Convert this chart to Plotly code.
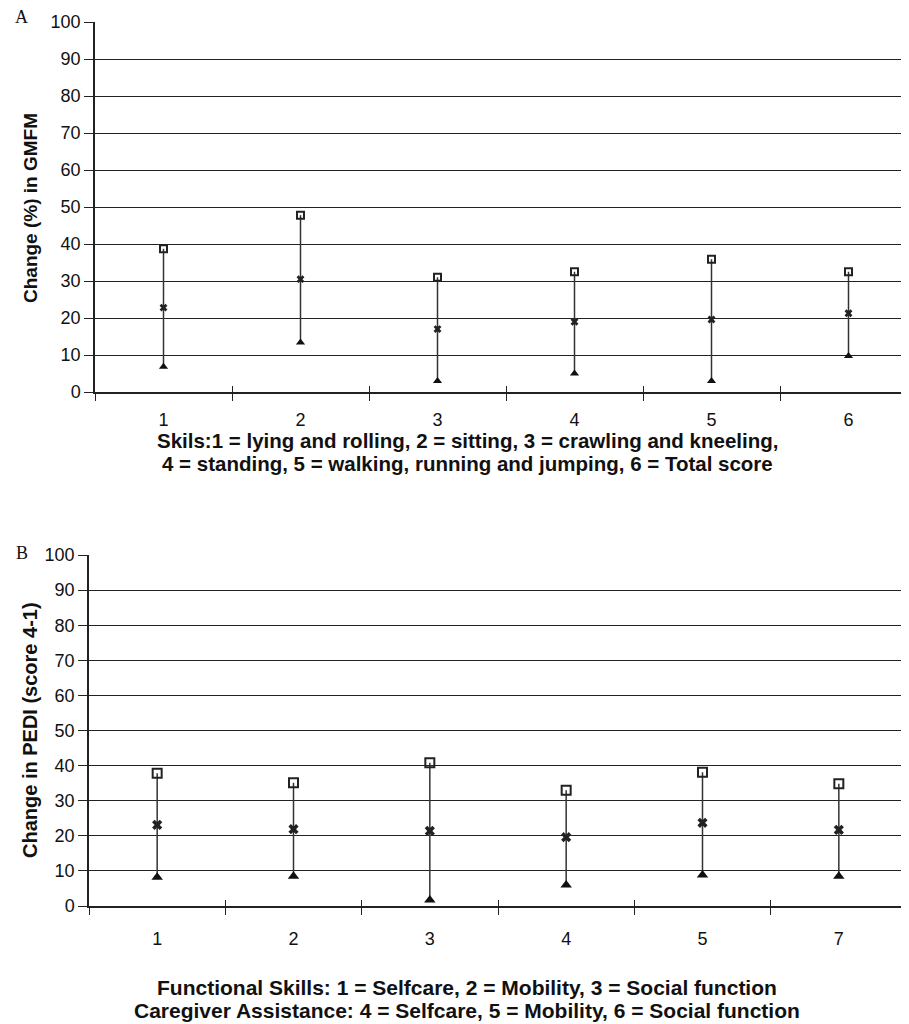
import plotly.graph_objects as go

# Panel A: GMFM change (%)
cats_a = ["1", "2", "3", "4", "5", "6"]
high_a = [38.7, 47.8, 31.0, 32.5, 35.9, 32.5]
mean_a = [22.8, 30.5, 17.0, 19.0, 19.6, 21.3]
low_a = [6.8, 13.4, 3.0, 5.0, 3.0, 9.7]

# Panel B: PEDI change
cats_b = ["1", "2", "3", "4", "5", "7"]
high_b = [37.8, 35.1, 40.8, 33.0, 38.1, 34.8]
mean_b = [23.1, 21.9, 21.4, 19.6, 23.7, 21.7]
low_b = [8.2, 8.5, 1.7, 6.0, 8.8, 8.5]

yticks = [0, 10, 20, 30, 40, 50, 60, 70, 80, 90, 100]

W, H = 909, 1024
OFF = 8  # page body margin


def px(v):
    return (v - OFF) / W


def py(v):
    return 1 - (v - OFF) / H


fig = go.Figure()


def add_panel(cats, high, low, mean, xa, ya, xov, msize):
    lx, ly = [], []
    for c, lo, hi in zip(cats, low, high):
        lx += [c, c, None]
        ly += [lo, hi, None]
    fig.add_trace(go.Scatter(x=lx, y=ly, mode="lines", xaxis=xa, yaxis=ya,
                             line=dict(color="#333333", width=1.5),
                             showlegend=False, hoverinfo="skip"))
    fig.add_trace(go.Scatter(x=cats, y=high, mode="markers", xaxis=xa, yaxis=ya,
                             marker=dict(symbol="square-open", size=msize - 1,
                                         color="#222222", line=dict(width=2, color="#222222")),
                             showlegend=False))
    fig.add_trace(go.Scatter(x=cats, y=mean, mode="markers", xaxis=xa, yaxis=ya,
                             marker=dict(symbol="x", size=msize - 1, color="#222222",
                                         line=dict(width=0)),
                             showlegend=False))
    fig.add_trace(go.Scatter(x=cats, y=low, mode="markers", xaxis=xa, yaxis=ya,
                             marker=dict(symbol="triangle-up", size=msize, color="#111111"),
                             showlegend=False))
    # invisible helper so the overlay axis knows the categories (ticks crossing the axis)
    fig.add_trace(go.Scatter(x=cats, y=mean, mode="markers", xaxis=xov, yaxis=ya,
                             marker=dict(opacity=0), showlegend=False, hoverinfo="skip"))


add_panel(cats_a, high_a, low_a, mean_a, "x", "y", "x3", 8)
add_panel(cats_b, high_b, low_b, mean_b, "x2", "y2", "x4", 10)

tickfont = dict(family="Liberation Sans, Arial", size=18, color="#111111")

common_y = dict(range=[0, 100], tickvals=yticks, showgrid=True, gridcolor="#222222",
                gridwidth=1.3, showline=True, linecolor="#222222", linewidth=1.5,
                ticks="outside", ticklen=9, tickcolor="#222222", tickfont=tickfont,
                zeroline=False, fixedrange=True, automargin=False)
common_x = dict(type="category", tickson="boundaries", ticks="outside", ticklen=7,
                tickcolor="#222222", showline=True, linecolor="#222222", linewidth=1.5,
                showgrid=False, zeroline=False, tickfont=tickfont, automargin=False)
over_x = dict(type="category", tickson="boundaries", ticks="inside", ticklen=6,
              tickcolor="#222222", showline=False, showgrid=False, zeroline=False,
              showticklabels=False, automargin=False)

dom_a = [px(95), px(917)]
dom_b = [px(89), px(907)]

fig.update_layout(
    width=W, height=H,
    margin=dict(l=0, r=0, t=0, b=0),
    plot_bgcolor="white", paper_bgcolor="white",
    xaxis=dict(domain=dom_a, anchor="y", range=[-0.5, 5.5],
               categoryarray=cats_a, categoryorder="array", ticklabelstandoff=11, **common_x),
    yaxis=dict(domain=[py(392), py(22)], anchor="x", **common_y),
    xaxis2=dict(domain=dom_b, anchor="y2", range=[-0.5, 5.5],
                categoryarray=cats_b, categoryorder="array", ticklabelstandoff=16, **common_x),
    yaxis2=dict(domain=[py(906), py(555)], anchor="x2", **common_y),
    xaxis3=dict(domain=dom_a, anchor="y", overlaying="x", range=[-0.5, 5.5],
                categoryarray=cats_a, categoryorder="array", **over_x),
    xaxis4=dict(domain=dom_b, anchor="y2", overlaying="x2", range=[-0.5, 5.5],
                categoryarray=cats_b, categoryorder="array", **over_x),
)

bold_a = dict(family="Liberation Sans, Arial", size=20.5, color="#111111")
bold_b = dict(family="Liberation Sans, Arial", size=21, color="#111111")
ybold_a = dict(family="Liberation Sans, Arial", size=19, color="#111111")
ybold_b = dict(family="Liberation Sans, Arial", size=20, color="#111111")
serif = dict(family="Liberation Serif, Times New Roman", size=18, color="#111111")

ann = [
    dict(text="A", x=px(21), y=py(17), font=serif),
    dict(text="B", x=px(22), y=py(553), font=serif),
    dict(text="<b>Change (%) in GMFM</b>", x=px(30), y=py(208), textangle=-90, font=ybold_a),
    dict(text="<b>Change in PEDI (score 4-1)</b>", x=px(30), y=py(730), textangle=-90, font=ybold_b),
    dict(text="<b>Skils:1 = lying and rolling, 2 = sitting, 3 = crawling and kneeling,</b>",
         x=px(467), y=py(440), font=bold_a),
    dict(text="<b>4 = standing, 5 = walking, running and jumping, 6 = Total score</b>",
         x=px(467), y=py(463), font=bold_a),
    dict(text="<b>Functional Skills: 1 = Selfcare, 2 = Mobility, 3 = Social function</b>",
         x=px(467), y=py(987), font=bold_b),
    dict(text="<b>Caregiver Assistance: 4 = Selfcare, 5 = Mobility, 6 = Social function</b>",
         x=px(467), y=py(1010), font=bold_b),
]
for a in ann:
    a.update(xref="paper", yref="paper", showarrow=False, xanchor="center", yanchor="middle")
fig.update_layout(annotations=ann)

fig.write_html("out.html")
